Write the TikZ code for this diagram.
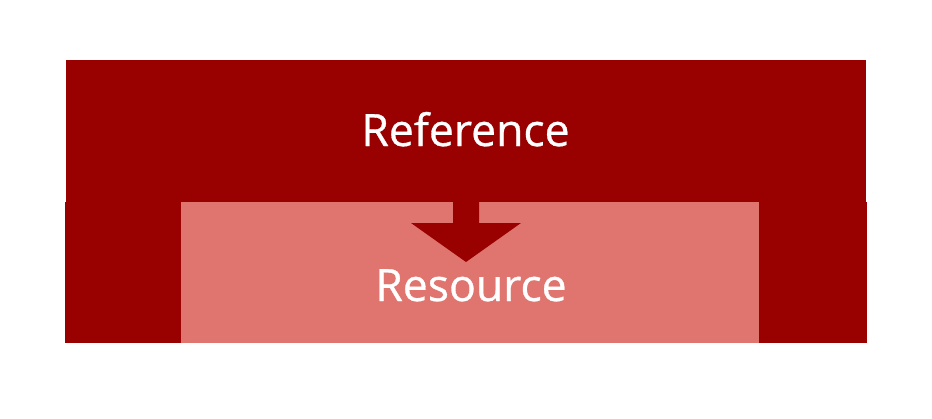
\documentclass[tikz,border=0pt]{standalone}
\usepackage{fontspec}
\setmainfont{Open Sans}
\newfontfamily\labelfont{Open Sans}[FakeBold=0.7]
\definecolor{darkred}{HTML}{990000}
\definecolor{lightred}{HTML}{E0746F}
\begin{document}
\begin{tikzpicture}[x=1pt,y=-1pt,
  block/.style={fill=#1,draw=none},
  label/.style={text=white,font=\labelfont\fontsize{44.5}{50}\selectfont,inner sep=0pt,anchor=base}]
\useasboundingbox (0,0) rectangle (932,418);
% outer dark frame
\fill[block=darkred] (66,60) rectangle (866,202);
\fill[block=darkred] (65,202) rectangle (867,343);
% inner light box
\fill[block=lightred] (181,202) rectangle (759,343);
% arrow
\fill[darkred] (453,201) -- (479,201) -- (479,223) -- (521,223) -- (466,262) -- (411,223) -- (453,223) -- cycle;
\node[label] (ref) at (465.5,146) {Reference};
\node[label] (res) at (471,301) {Resource};
\end{tikzpicture}
\end{document}
